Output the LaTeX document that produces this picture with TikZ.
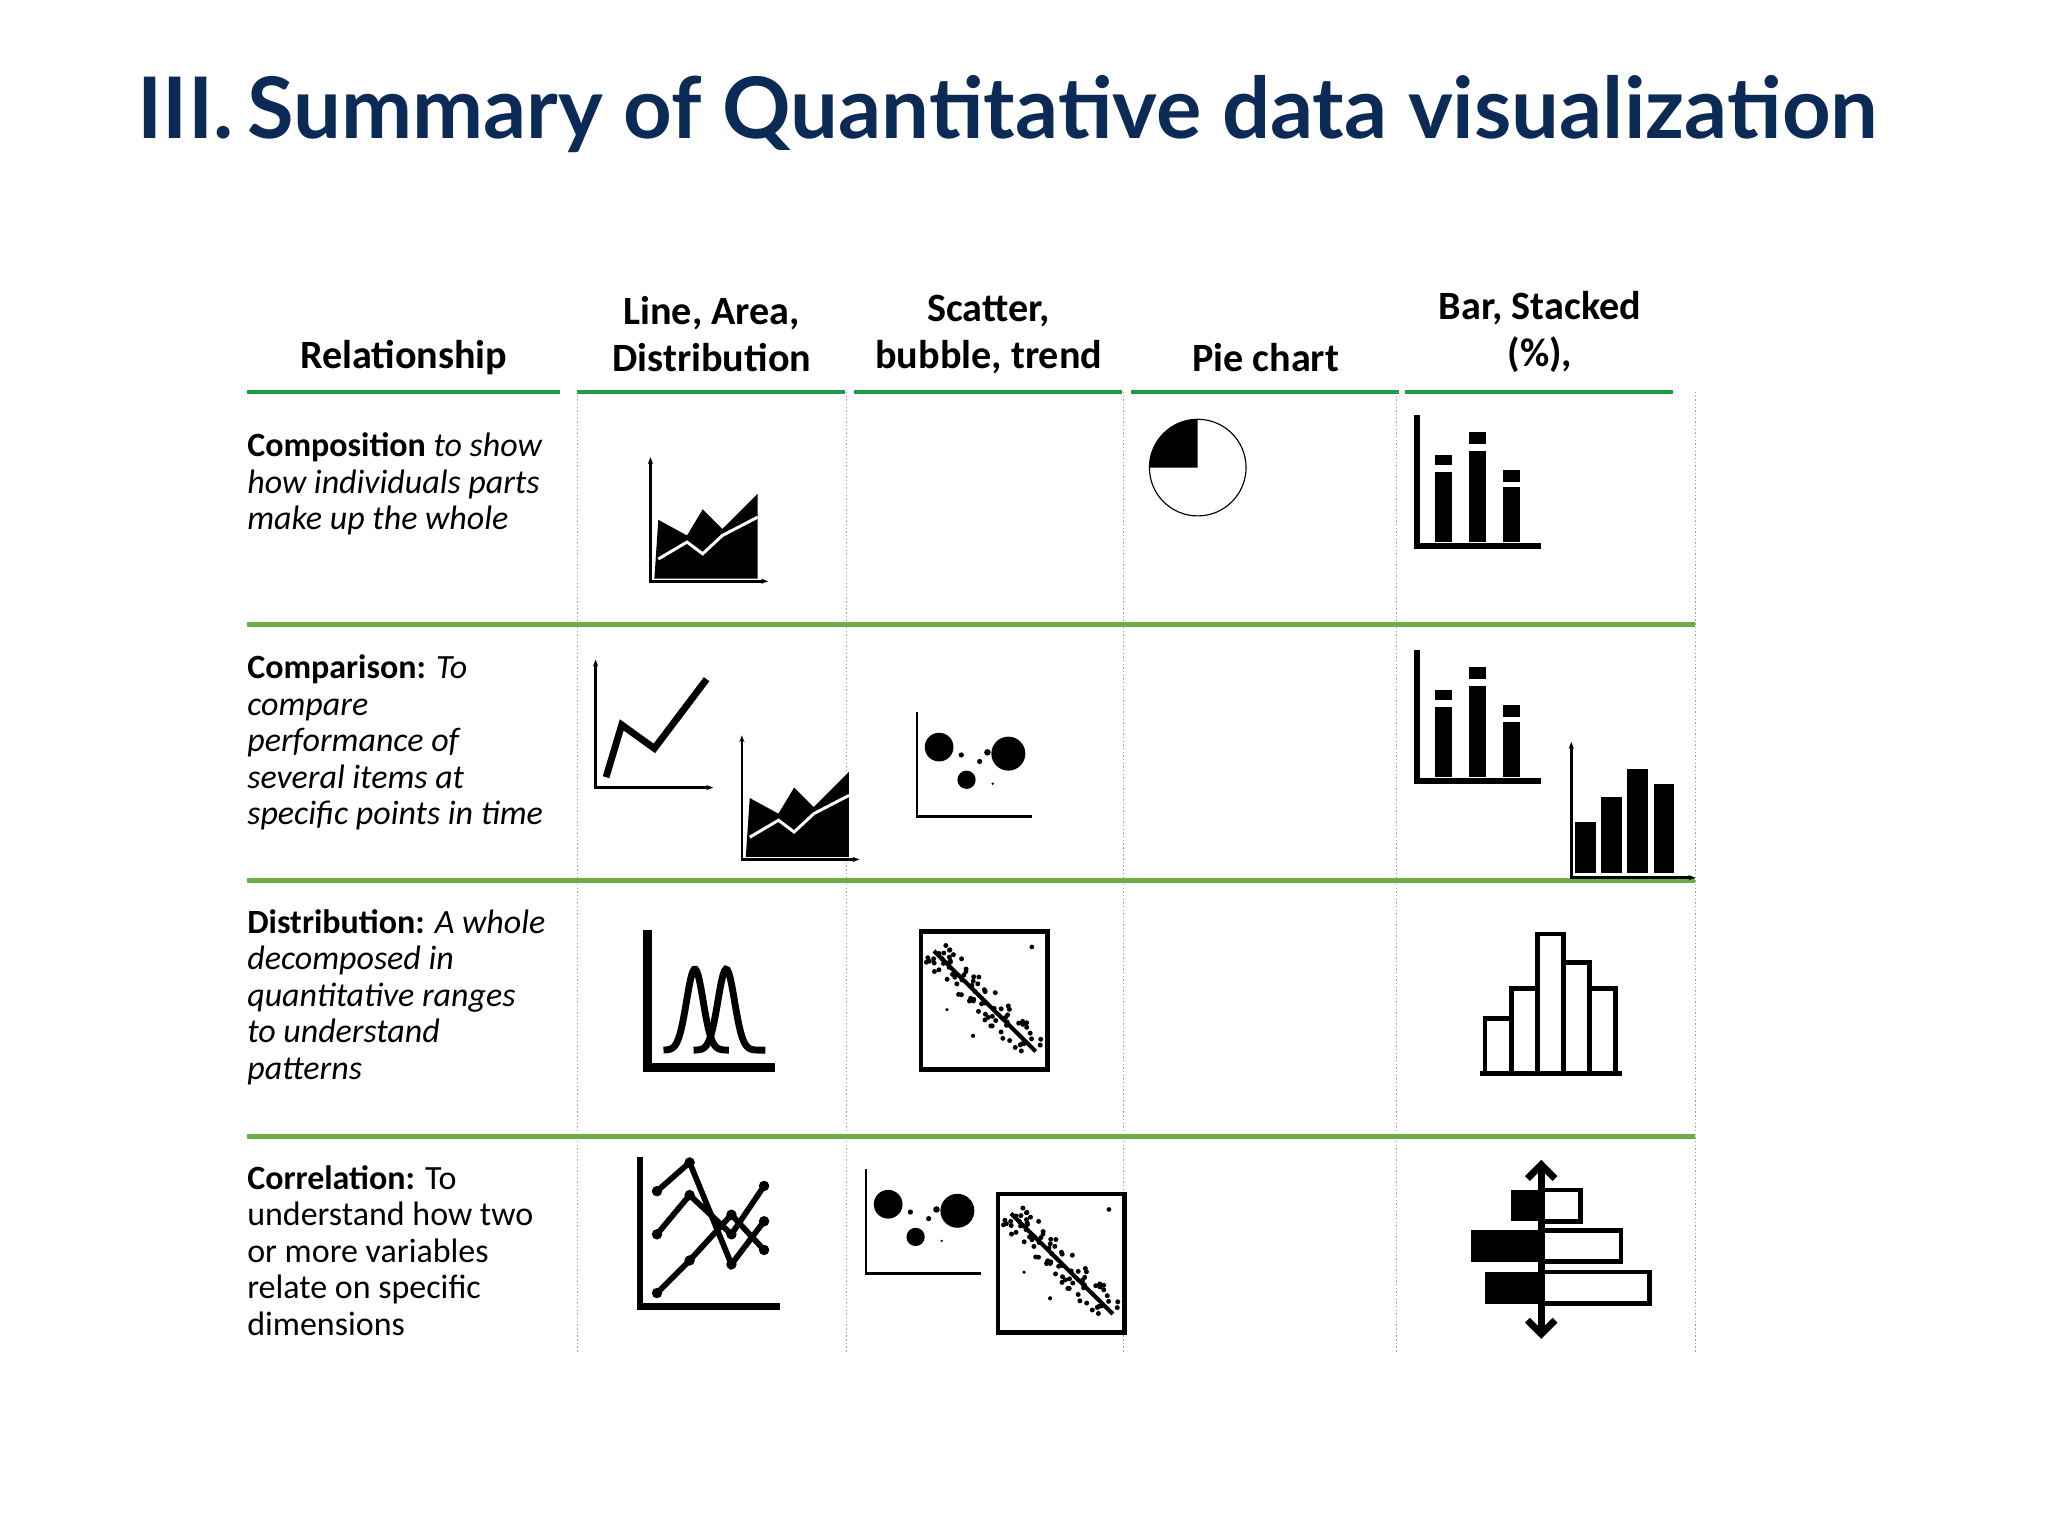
\documentclass[tikz,border=0pt]{standalone}
\usepackage{fontspec}
\setmainfont{Carlito}
\newfontfamily\titlefont{Lato}
\usetikzlibrary{arrows.meta}
\definecolor{navy}{HTML}{0B2A55}
\definecolor{hgreen}{HTML}{1E9A4A}
\definecolor{rgreen}{HTML}{6AAF46}
\definecolor{vgray}{HTML}{8FA3BF}
\tikzset{
 hdr/.style={font=\fontsize{17.5}{20.4}\selectfont\bfseries,align=center,inner sep=0},
 rowtxt/.style={font=\fontsize{14.8}{15.9}\selectfont,align=left,anchor=north west,inner sep=0},
 ax/.style={line width=1.2pt,{Stealth[length=3pt]}-{Stealth[length=3pt]}},
 areaicon/.pic={
  \fill (3,93) -- (6,48) -- (28,60) -- (40,40) -- (55,55) -- (82,28) -- (82,93) -- cycle;
  \draw[white,line width=1.3pt] (6,78) -- (28,65) -- (40,74) -- (55,60) -- (82,46);
  \draw[ax] (0,0) -- (0,95) -- (90,95);
 },
 baricon/.pic={
  \draw[line width=2.5pt] (0,0) -- (0,100) -- (95,100);
  \fill (14,43) rectangle (27,97); \fill (14,30) rectangle (27,38);
  \fill (40,27) rectangle (53,97); \fill (40,13) rectangle (53,22);
  \fill (66,55) rectangle (79,97); \fill (66,42) rectangle (79,51);
 },
 lineicon/.pic={
  \draw[ax] (0,0) -- (0,98) -- (90,98);
  \draw[line width=3pt] (8,90) -- (20,50) -- (45,68) -- (85,15);
 },
 bubbleicon/.pic={
  \draw[line width=1.2pt] (0,0) -- (0,80) -- (88,80);
  \fill (17,27) circle (11); \fill (38,52) circle (7); \fill (70,32) circle (13);
  \fill (34,33) circle (2); \fill (48,38) circle (2); \fill (54,31) circle (2.5); \fill (58,55) circle (1);
 },
 scattericon/.pic={
  \draw[line width=2pt] (0,0) rectangle (97,106);
  \draw[line width=1.8pt] (10,15) -- (88,92);
  \pgfmathsetseed{7}
  \foreach \i in {1,...,80}{
    \pgfmathsetmacro\t{10+78*rnd}
    \pgfmathsetmacro\d{(rnd-0.5)*16}
    \fill (\t+\d,\t+5-\d) circle (1.9);
  }
  \fill (85,12) circle (1.8); \fill (40,80) circle (1.6); \fill (20,60) circle (1.4);
 },
 disticon/.pic={
  \draw[line width=4pt] (0,0) -- (0,105) -- (97,105);
  \draw[line width=3pt,domain=12:62,samples=50] plot ({\x},{92-62*exp(-((\x-36)/9)^2)});
  \draw[line width=3pt,domain=35:90,samples=50] plot ({\x},{92-62*exp(-((\x-60)/9)^2)});
 },
 histicon/.pic={
  \draw[line width=2pt] (4,66) rectangle (24,108);
  \draw[line width=2pt] (24,43) rectangle (44,108);
  \draw[line width=2pt] (44,1) rectangle (64,108);
  \draw[line width=2pt] (64,23) rectangle (84,108);
  \draw[line width=2pt] (84,43) rectangle (104,108);
  \draw[line width=2pt] (0,108) -- (109,108);
 },
 colicon/.pic={
  \fill (3,61) rectangle (19,100); \fill (23,42) rectangle (39,100);
  \fill (43,21) rectangle (59,100); \fill (63,32) rectangle (79,100);
  \draw[ax] (0,0) -- (0,104) -- (95,104);
 },
}
\begin{document}
\begin{tikzpicture}[x=0.02cm,y=-0.02cm]
\useasboundingbox (0,0) rectangle (1568,1176);
\node[anchor=base west,inner sep=0,text=navy,font=\fontsize{37}{40}\selectfont\titlefont\bfseries] (title) at (105,106) {III.\,Summary of Quantitative data visualization};
% headers
\node[hdr] (h1) at (309,274) {Relationship};
\node[hdr] (h2) at (545,256) {Line, Area,\\Distribution};
\node[hdr] (h3) at (757,256) {Scatter,\\bubble, trend};
\node[hdr] (h4) at (969,274) {Pie chart};
\node[hdr] (h5) at (1179,254) {Bar, Stacked\\(\%),};
\foreach \a/\b in {189/429,442/647,654/859,866/1071,1076/1281}
  \draw[hgreen,line width=2pt] (\a,300) -- (\b,300);
\foreach \x in {442,648,860,1069,1298}
  \draw[vgray,densely dotted,line width=0.6pt] (\x,300) -- (\x,1035);
\foreach \y in {478,674,870}
  \draw[rgreen,line width=2pt] (189,\y) -- (1298,\y);
% row texts
\node[rowtxt] (r1) at (189,331) {\textbf{Composition} \textit{to show}\\\textit{how individuals parts}\\\textit{make up the whole}};
\node[rowtxt] (r2) at (189,501) {\textbf{Comparison:} \textit{To}\\\textit{compare}\\\textit{performance of}\\\textit{several items at}\\\textit{specific points in time}};
\node[rowtxt] (r3) at (189,696) {\textbf{Distribution:} \textit{A whole}\\\textit{decomposed in}\\\textit{quantitative ranges}\\\textit{to understand}\\\textit{patterns}};
\node[rowtxt] (r4) at (189,892) {\textbf{Correlation:} To\\understand how two\\or more variables\\relate on specific\\dimensions};
% row 1
\pic at (498,350) {areaicon};
\draw[line width=0.5pt] (917,358) circle (37);
\fill (917,358) -- ++(-37,0) arc[start angle=180,end angle=270,radius=37] -- cycle;
\pic at (1085,318) {baricon};
% row 2
\pic at (456,505) {lineicon};
\pic at (568,563) {areaicon};
\pic at (702,545) {bubbleicon};
\pic at (1085,498) {baricon};
\pic at (1203,568) {colicon};
% row 3
\pic at (496,712) {disticon};
\pic at (705,713) {scattericon};
\pic at (1133,714) {histicon};
% row 4
\draw[line width=3pt] (490,886) -- (490,1000) -- (597,1000);
\foreach \p in {{(503,912) -- (528,890) -- (560,968) -- (585,935)},{(503,945) -- (528,915) -- (560,945) -- (585,908)},{(503,990) -- (528,965) -- (560,930) -- (585,957)}}
  \draw[line width=2.5pt] \p;
\foreach \q in {(503,912),(528,890),(560,968),(585,935),(503,945),(528,915),(560,945),(585,908),(503,990),(528,965),(560,930),(585,957)}
  \fill \q circle (4);
\pic at (663,895) {bubbleicon};
\pic at (764,914) {scattericon};
\fill (1157,911) rectangle (1180,935); \draw[line width=2pt] (1180,911) rectangle (1210,935);
\fill (1126,942) rectangle (1180,966); \draw[line width=2pt] (1180,942) rectangle (1241,966);
\fill (1137,974) rectangle (1180,998); \draw[line width=2pt] (1180,974) rectangle (1263,998);
\draw[line width=3pt,{Straight Barb[length=6pt,width=12pt]}-{Straight Barb[length=6pt,width=12pt]}] (1180,888) -- (1180,1025);
\end{tikzpicture}
\end{document}
